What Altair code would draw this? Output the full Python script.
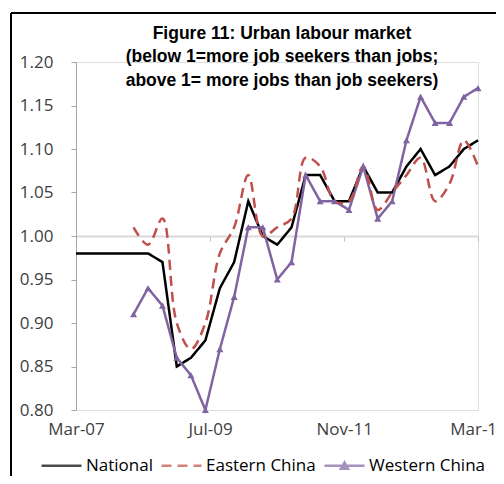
import altair as alt
import pandas as pd

quarters = [
    "2007/03/01", "2007/06/01", "2007/09/01", "2007/12/01",
    "2008/03/01", "2008/06/01", "2008/09/01", "2008/12/01",
    "2009/03/01", "2009/06/01", "2009/09/01", "2009/12/01",
    "2010/03/01", "2010/06/01", "2010/09/01", "2010/12/01",
    "2011/03/01", "2011/06/01", "2011/09/01", "2011/12/01",
    "2012/03/01", "2012/06/01", "2012/09/01", "2012/12/01",
    "2013/03/01", "2013/06/01", "2013/09/01", "2013/12/01",
    "2014/03/01",
]
national = [0.98, 0.98, 0.98, 0.98, 0.98, 0.98, 0.97, 0.85, 0.86, 0.88, 0.94, 0.97,
            1.04, 1.00, 0.99, 1.01, 1.07, 1.07, 1.04, 1.04, 1.08, 1.05, 1.05, 1.08,
            1.10, 1.07, 1.08, 1.10, 1.11]
eastern = [None, None, None, None, 1.01, 0.99, 1.02, 0.90, 0.87, 0.90, 0.98, 1.01,
           1.07, 1.00, 1.01, 1.02, 1.09, 1.08, 1.04, 1.04, 1.08, 1.03, 1.05, 1.07,
           1.09, 1.04, 1.06, 1.11, 1.08]
western = [None, None, None, None, 0.91, 0.94, 0.92, 0.86, 0.84, 0.80, 0.87, 0.93,
           1.01, 1.01, 0.95, 0.97, 1.07, 1.04, 1.04, 1.03, 1.08, 1.02, 1.04, 1.11,
           1.16, 1.13, 1.13, 1.16, 1.17]
series_names = ["National", "Eastern China", "Western China"]
series_colors = ["#000000", "#C0504D", "#8064A2"]
title_lines = ["Figure 11: Urban labour market",
               "(below 1=more job seekers than jobs;",
               "above 1= more jobs than job seekers)"]
y_ticks = [0.80, 0.85, 0.90, 0.95, 1.00, 1.05, 1.10, 1.15, 1.20]

rows = []
for name, vals in zip(series_names, [national, eastern, western]):
    for d, v in zip(quarters, vals):
        if v is not None:
            rows.append({"date": d, "series": name, "value": v})
df = pd.DataFrame(rows)

FONT = "Open Sans"
W, H = 402, 348

x_enc = alt.X(
    "date:T",
    scale=alt.Scale(domain=[alt.DateTime(year=2007, month=3, date=1),
                            alt.DateTime(year=2014, month=3, date=1)]),
    axis=alt.Axis(
        values=[alt.DateTime(year=2007, month=3, date=1), alt.DateTime(year=2009, month=7, date=1),
                alt.DateTime(year=2011, month=11, date=1), alt.DateTime(year=2014, month=3, date=1)],
        format="%b-%y", title=None, offset=-174, labelPadding=180, tickSize=5,
        domainColor="#D9D9D9", domainWidth=2, tickColor="#BFBFBF", grid=False,
        labelFont=FONT, labelFontSize=17, labelColor="#404040", labelFlush=False),
)
y_enc = alt.Y(
    "value:Q",
    scale=alt.Scale(domain=[0.80, 1.20], nice=False, zero=False),
    axis=alt.Axis(values=y_ticks, format=".2f", title=None, tickSize=5, labelPadding=18,
                  domainColor="#A6A6A6", tickColor="#A6A6A6", grid=False,
                  labelFont=FONT, labelFontSize=17, labelColor="#404040"),
)
color_enc = alt.Color("series:N", scale=alt.Scale(domain=series_names, range=series_colors),
                      legend=alt.Legend(title=None, orient="none", direction="horizontal",
                                        legendX=-36, legendY=382, symbolSize=1600,
                                        symbolStrokeWidth=2.5, labelFont=FONT, labelFontSize=17,
                                        labelColor="#000000", labelOffset=3, columnPadding=3,
                                        symbolFillColor="#8064A2"))
dash_enc = alt.StrokeDash("series:N", scale=alt.Scale(domain=series_names,
                                                      range=[[1, 0], [10, 6], [1, 0]]))

base = alt.Chart(df)

lines_main = base.transform_filter(alt.datum.series != "Eastern China").mark_line(strokeWidth=2.5).encode(
    x=x_enc, y=y_enc, color=color_enc, strokeDash=dash_enc)
line_east = base.transform_filter(alt.datum.series == "Eastern China").mark_line(
    strokeWidth=2.5, interpolate="catmull-rom").encode(
    x=x_enc, y=y_enc, color=color_enc, strokeDash=dash_enc)
points = base.transform_filter(alt.datum.series == "Western China").mark_point(
    filled=True, shape="triangle-up", size=50, opacity=1).encode(
    x=x_enc, y=y_enc, color=alt.Color("series:N", scale=alt.Scale(domain=series_names, range=series_colors), legend=None))
legend_shape = base.transform_filter("false").mark_point().encode(
    x=x_enc, y=y_enc, color=color_enc,
    shape=alt.Shape("series:N", scale=alt.Scale(
        domain=series_names,
        range=["M-1,0H1", "M-1,0H1", "M-1,0H1M-0.18,0.16L0,-0.16L0.18,0.16Z"])))

frame_data = alt.Data(values=[{"k": 1}])
frame_v = alt.Chart(frame_data).mark_rule(color="black", strokeWidth=2).encode(
    x=alt.value(-65), y=alt.value(-49), y2=alt.value(H + 80))
frame_h = alt.Chart(frame_data).mark_rule(color="black", strokeWidth=2).encode(
    x=alt.value(-65), x2=alt.value(W + 40), y=alt.value(-49))

chart = alt.layer(lines_main, line_east, points, legend_shape, frame_v, frame_h).properties(
    width=W, height=H,
    title=alt.TitleParams(text=title_lines, font="Liberation Sans", fontSize=17.5, fontWeight="bold",
                          color="#000000", anchor="middle", frame="group", offset=-27,
                          lineHeight=23.5, dx=5, dy=50),
    autosize=alt.AutoSizeParams(type="none"),
    padding={"left": 68, "top": 54, "right": 18, "bottom": 66},
).configure_view(stroke=None).configure(background="white")

chart.save("out.html", embed_options={"renderer": "svg", "actions": False})
